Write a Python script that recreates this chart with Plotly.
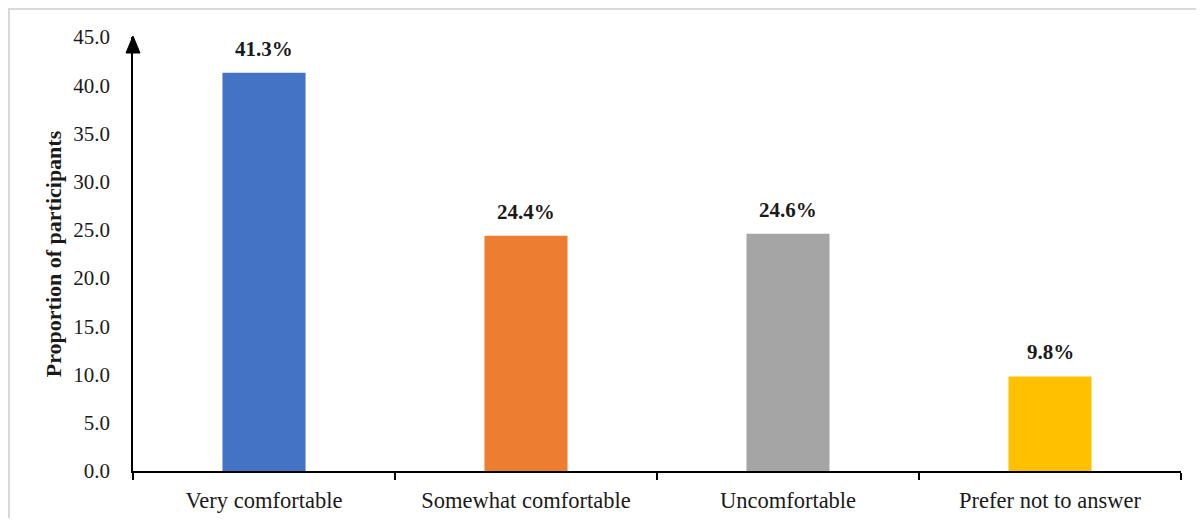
import plotly.graph_objects as go

categories = ["Very comfortable", "Somewhat comfortable", "Uncomfortable", "Prefer not to answer"]
values = [41.3, 24.4, 24.6, 9.8]
labels = ["41.3%", "24.4%", "24.6%", "9.8%"]
colors = ["#4472C4", "#ED7D31", "#A5A5A5", "#FFC000"]
y_ticks = [0, 5, 10, 15, 20, 25, 30, 35, 40, 45]
y_tick_text = ["0.0", "5.0", "10.0", "15.0", "20.0", "25.0", "30.0", "35.0", "40.0", "45.0"]

FONT = "Liberation Serif"
TXT = "#1a1a1a"

W, H = 1188, 510  # page adds an 8px body margin on every side

fig = go.Figure()
fig.add_trace(go.Bar(
    x=categories, y=values, marker=dict(color=colors, line=dict(width=0)),
    hoverinfo="skip", showlegend=False,
))

for c, v, t in zip(categories, values, labels):
    fig.add_annotation(x=c, y=v, text="<b>" + t + "</b>", showarrow=False,
                       yanchor="bottom", yshift=10,
                       font=dict(family=FONT, size=21, color=TXT))

# figure-pixel geometry: plot area x 125..1173, y 29..463
L, T, R, B = 125, 29, 1173, 463
PW, PH = R - L, B - T
def px(xp):
    return (xp - L) / PW
def py(yp):
    return (B - yp) / PH

shapes = [
    # light grey frame (top and left)
    dict(type="line", xref="paper", yref="paper", x0=px(0), x1=px(W), y0=py(1), y1=py(1),
         line=dict(color="#d9d9d9", width=2), layer="below"),
    dict(type="line", xref="paper", yref="paper", x0=px(1), x1=px(1), y0=py(0), y1=py(H),
         line=dict(color="#d9d9d9", width=2), layer="below"),
    # arrow head on y axis
    dict(type="path", xref="paper", yref="paper",
         path="M {a},{b} L {c},{b} L {d},{e} Z".format(a=px(L - 7), c=px(L + 7), b=py(T + 16), d=px(L), e=py(T - 1)),
         fillcolor="black", line=dict(color="black", width=1)),
]

fig.update_layout(
    width=W, height=H,
    margin=dict(l=L, r=W - R, t=T, b=H - B, autoexpand=False),
    paper_bgcolor="white", plot_bgcolor="white",
    font=dict(family=FONT, size=21, color=TXT),
    bargap=0.683,
    shapes=shapes,
    xaxis=dict(
        showline=True, linecolor="black", linewidth=2, automargin=False,
        ticks="outside", tickson="boundaries", ticklen=7, tickwidth=1.5, tickcolor="black",
        showgrid=False, zeroline=False, ticklabelstandoff=8,
        tickfont=dict(family=FONT, size=22.5, color=TXT),
    ),
    yaxis=dict(
        range=[0, 45], tickvals=y_ticks, ticktext=y_tick_text, automargin=False,
        showline=True, linecolor="black", linewidth=1.5,
        ticks="outside", ticklen=17, tickcolor="rgba(0,0,0,0)",
        showgrid=False, zeroline=False,
        tickfont=dict(family=FONT, size=21, color=TXT),
        title=dict(text="<b>Proportion of participants</b>", standoff=6,
                   font=dict(family=FONT, size=22, color=TXT)),
    ),
)

fig.write_html("out.html")
